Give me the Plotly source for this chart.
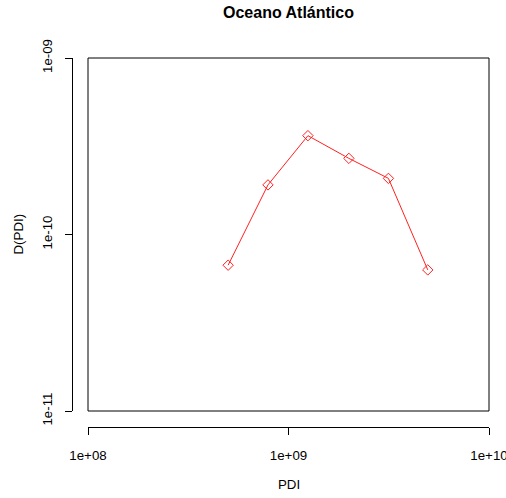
import plotly.graph_objects as go

# Data
pdi = [5.0e8, 7.9e8, 1.25e9, 2.0e9, 3.15e9, 4.95e9]
d_pdi = [6.7e-11, 1.91e-10, 3.63e-10, 2.70e-10, 2.08e-10, 6.3e-11]

x_tickvals = [1e8, 1e9, 1e10]
x_ticktext = ["1e+08", "1e+09", "1e+10"]
y_tickvals = [1e-11, 1e-10, 1e-9]
y_ticktext = ["1e-11", "1e-10", "1e-09"]

W, H = 506, 498
ml, mr, mt, mb = 40, 17, 58, 60
pw = W - ml - mr
ph = H - mt - mb

def px_x(x):
    # window pixel -> paper fraction
    return (x - ml) / pw

def px_y(y):
    return (H - mb - y) / ph

font = "Liberation Sans, Arial, Helvetica, sans-serif"
fs = 13.3

fig = go.Figure()
fig.add_trace(go.Scatter(
    x=pdi, y=d_pdi, mode="lines+markers",
    line=dict(color="#ff2020", width=1),
    marker=dict(symbol="diamond-open", size=8, color="#ff2020", line=dict(width=1)),
    showlegend=False,
))

fig.update_layout(
    width=W, height=H,
    margin=dict(l=ml, r=mr, t=mt, b=mb, autoexpand=False),
    plot_bgcolor="white", paper_bgcolor="white",
    font=dict(family=font, size=fs, color="#000000"),
    xaxis=dict(
        type="log", range=[8, 10], domain=[px_x(88), px_x(489)],
        anchor="free", position=px_y(427), automargin=False,
        showgrid=False, zeroline=False, showline=True, linecolor="#000", linewidth=1,
        ticks="outside", ticklen=7, tickcolor="#000", tickwidth=1,
        tickvals=x_tickvals, ticktext=x_ticktext, ticklabeloverflow="allow",
        ticklabelstandoff=9,
        tickfont=dict(size=fs, color="#000"),
    ),
    yaxis=dict(
        type="log", range=[-11, -9], domain=[px_y(411), px_y(58)],
        anchor="free", position=px_x(72), automargin=False,
        showgrid=False, zeroline=False, showline=True, linecolor="#000", linewidth=1,
        ticks="outside", ticklen=7, tickcolor="#000", tickwidth=1,
        tickvals=y_tickvals, ticktext=y_ticktext, tickangle=-90, ticklabeloverflow="allow",
        ticklabelstandoff=8,
        tickfont=dict(size=fs, color="#000"),
    ),
    shapes=[dict(type="rect", xref="x domain", yref="y domain", x0=0, x1=1, y0=0, y1=1,
                 line=dict(color="#000", width=1))],
    annotations=[
        dict(text="<b>Oceano Atlántico</b>", xref="paper", yref="paper",
             x=px_x(288.5), y=px_y(12.5), showarrow=False,
             font=dict(size=16, family=font, color="#000"), xanchor="center", yanchor="middle"),
        dict(text="PDI", xref="paper", yref="paper",
             x=px_x(288.5), y=px_y(484), showarrow=False,
             font=dict(size=fs, family=font, color="#000"), xanchor="center", yanchor="middle"),
        dict(text="D(PDI)", xref="paper", yref="paper",
             x=px_x(18), y=px_y(234.5), showarrow=False, textangle=-90,
             font=dict(size=fs, family=font, color="#000"), xanchor="center", yanchor="middle"),
    ],
)

fig.write_html("out.html", config={"displayModeBar": False},
               post_script="document.body.style.margin='0';")
